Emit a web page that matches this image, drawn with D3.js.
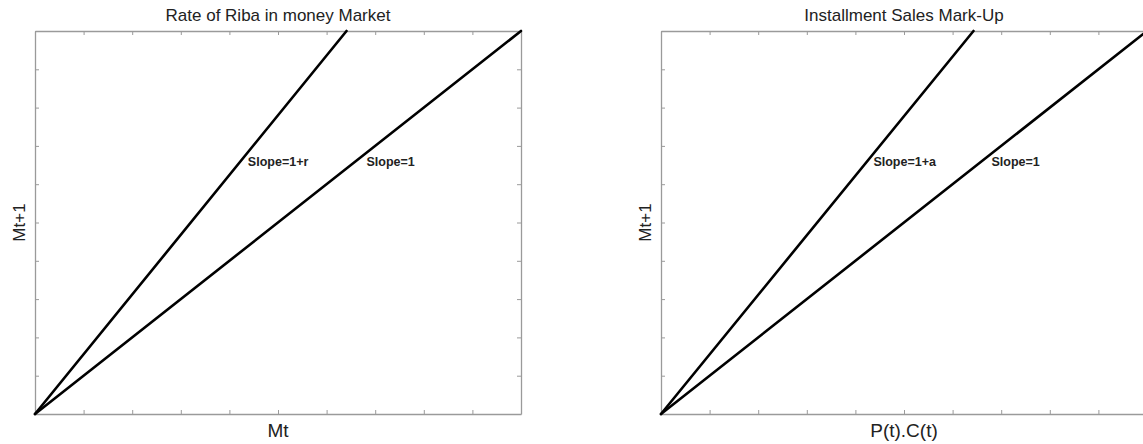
<!DOCTYPE html>
<html>
<head>
<meta charset="utf-8">
<script src="https://cdn.jsdelivr.net/npm/d3@7"></script>
<style>
  html, body { margin: 0; padding: 0; background: #fff; overflow: hidden; }
  svg { display: block; font-family: "Liberation Sans", Arial, sans-serif; }
</style>
</head>
<body>
<svg id="chart" width="1143" height="444"></svg>
<script>
// Panel titles and axis labels
const titles = ["Rate of Riba in money Market", "Installment Sales Mark-Up"];
const xLabels = ["Mt", "P(t).C(t)"];
const yLabels = ["Mt+1", "Mt+1"];

// Axis domain and tick positions (unlabelled ticks)
const axisDomain = [0, 10];
const tickValues = [0, 1, 2, 3, 4, 5, 6, 7, 8, 9, 10];

// Line end points for each panel: [x, y]
const ribaSteep = [[0, 0], [6.41, 10]];
const ribaUnit = [[0, 0], [10, 10]];
const markupSteep = [[0, 0], [6.43, 10]];
const markupUnit = [[0, 0], [10, 10]];

// Line annotations: text and anchor point [x, y]
const ribaNotes = [["Slope=1+r", 4.38, 6.48], ["Slope=1", 6.82, 6.48]];
const markupNotes = [["Slope=1+a", 4.37, 6.48], ["Slope=1", 6.80, 6.48]];

const panels = [
  { left: 35, title: titles[0], xl: xLabels[0], yl: yLabels[0], lines: [ribaSteep, ribaUnit], notes: ribaNotes },
  { left: 661, title: titles[1], xl: xLabels[1], yl: yLabels[1], lines: [markupSteep, markupUnit], notes: markupNotes }
];

const plotW = 486, plotTop = 31, plotH = 383;
const frameColor = "#9a9a9a";
const svg = d3.select("#chart");

panels.forEach(p => {
  const g = svg.append("g").attr("transform", `translate(${p.left},${plotTop})`);
  const x = d3.scaleLinear().domain(axisDomain).range([0, plotW]);
  const y = d3.scaleLinear().domain(axisDomain).range([plotH, 0]);

  const styleAxis = sel => {
    sel.selectAll("path").attr("stroke", frameColor).attr("stroke-width", 1.3);
    sel.selectAll("line").attr("stroke", frameColor).attr("stroke-width", 1);
    sel.selectAll("text").remove();
  };

  g.append("g").attr("transform", `translate(0,${plotH})`)
    .call(d3.axisBottom(x).tickValues(tickValues).tickSizeInner(-4).tickSizeOuter(0).tickFormat(""))
    .call(styleAxis);
  g.append("g")
    .call(d3.axisTop(x).tickValues(tickValues).tickSizeInner(-4).tickSizeOuter(0).tickFormat(""))
    .call(styleAxis);
  g.append("g")
    .call(d3.axisLeft(y).tickValues(tickValues).tickSizeInner(-4).tickSizeOuter(0).tickFormat(""))
    .call(styleAxis);
  g.append("g").attr("transform", `translate(${plotW},0)`)
    .call(d3.axisRight(y).tickValues(tickValues).tickSizeInner(-4).tickSizeOuter(0).tickFormat(""))
    .call(styleAxis);

  const line = d3.line().x(d => x(d[0])).y(d => y(d[1]));
  p.lines.forEach(pts => {
    g.append("path").attr("d", line(pts))
      .attr("fill", "none").attr("stroke", "#000").attr("stroke-width", 2.6)
      .attr("stroke-linecap", "round");
  });

  p.notes.forEach(n => {
    g.append("text").attr("x", x(n[1])).attr("y", y(n[2]))
      .attr("font-size", 12.5).attr("font-weight", "bold").attr("fill", "#222")
      .text(n[0]);
  });

  g.append("text").attr("x", plotW / 2).attr("y", -10)
    .attr("text-anchor", "middle").attr("font-size", 17).attr("fill", "#222")
    .text(p.title);

  g.append("text").attr("x", plotW / 2).attr("y", plotH + 23)
    .attr("text-anchor", "middle").attr("font-size", 19).attr("fill", "#222")
    .text(p.xl);

  g.append("text")
    .attr("transform", `translate(-10,${plotH / 2}) rotate(-90)`)
    .attr("text-anchor", "middle").attr("font-size", 17).attr("fill", "#222")
    .text(p.yl);
});
</script>
</body>
</html>
